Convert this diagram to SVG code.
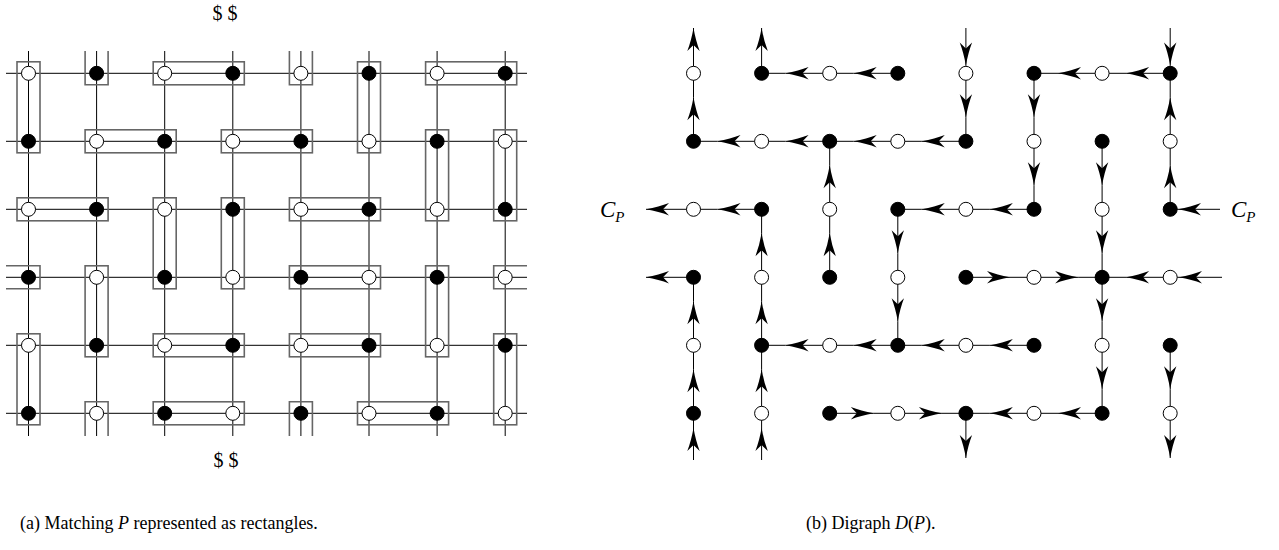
<svg xmlns="http://www.w3.org/2000/svg" width="1279" height="550" viewBox="0 0 1279 550">
<defs>
<marker id="ah" markerUnits="userSpaceOnUse" markerWidth="23" markerHeight="13" viewBox="0 0 23 13" refX="23" refY="6.5" orient="auto" overflow="visible">
<path d="M23,6.5 Q10,4.2 0,0.3 L6,6.5 L0,12.7 Q10,8.8 23,6.5 Z" fill="#000"/>
</marker>
<style>
.grid line{stroke:#000;stroke-width:1}
.w{fill:#fff;stroke:#000;stroke-width:1}
.b{fill:#000;stroke:#000;stroke-width:1}
.mt rect,.mt path{fill:none;stroke:#666;stroke-width:1.6}
.e path{fill:none;stroke:#000;stroke-width:1}
.e .m{marker-mid:url(#ah)}
.e .t{marker-end:url(#ah)}
text{font-family:"Liberation Serif","Times New Roman",serif;fill:#000}
.it{font-style:italic}
</style>
</defs>
<rect width="1279" height="550" fill="#fff"/>

<!-- (a) grid lines -->
<g class="grid" id="grid-a">
<line x1="6" y1="73.3" x2="527" y2="73.3"/>
<line x1="6" y1="141.3" x2="527" y2="141.3"/>
<line x1="6" y1="209.3" x2="527" y2="209.3"/>
<line x1="6" y1="277.3" x2="527" y2="277.3"/>
<line x1="6" y1="345.3" x2="527" y2="345.3"/>
<line x1="6" y1="413.3" x2="527" y2="413.3"/>
<line x1="28.5" y1="51" x2="28.5" y2="436"/>
<line x1="96.6" y1="51" x2="96.6" y2="436"/>
<line x1="164.7" y1="51" x2="164.7" y2="436"/>
<line x1="232.8" y1="51" x2="232.8" y2="436"/>
<line x1="300.9" y1="51" x2="300.9" y2="436"/>
<line x1="369" y1="51" x2="369" y2="436"/>
<line x1="437.1" y1="51" x2="437.1" y2="436"/>
<line x1="505.2" y1="51" x2="505.2" y2="436"/>
</g>

<!-- (a) matching rectangles -->
<g class="mt" id="matching">
<rect x="17" y="61.8" width="23" height="91"/>
<rect x="357.5" y="61.8" width="23" height="91"/>
<rect x="425.6" y="129.8" width="23" height="91"/>
<rect x="493.7" y="129.8" width="23" height="91"/>
<rect x="153.2" y="197.8" width="23" height="91"/>
<rect x="221.3" y="197.8" width="23" height="91"/>
<rect x="85.1" y="265.8" width="23" height="91"/>
<rect x="425.6" y="265.8" width="23" height="91"/>
<rect x="17" y="333.8" width="23" height="91"/>
<rect x="493.7" y="333.8" width="23" height="91"/>
<rect x="153.2" y="61.8" width="91.1" height="23"/>
<rect x="425.6" y="61.8" width="91.1" height="23"/>
<rect x="85.1" y="129.8" width="91.1" height="23"/>
<rect x="221.3" y="129.8" width="91.1" height="23"/>
<rect x="17" y="197.8" width="91.1" height="23"/>
<rect x="289.4" y="197.8" width="91.1" height="23"/>
<rect x="289.4" y="265.8" width="91.1" height="23"/>
<rect x="153.2" y="333.8" width="91.1" height="23"/>
<rect x="289.4" y="333.8" width="91.1" height="23"/>
<rect x="153.2" y="401.8" width="91.1" height="23"/>
<rect x="357.5" y="401.8" width="91.1" height="23"/>
<path d="M85.1,51 V84.8 H108.1 V51"/>
<path d="M289.4,51 V84.8 H312.4 V51"/>
<path d="M85.1,436 V401.8 H108.1 V436"/>
<path d="M289.4,436 V401.8 H312.4 V436"/>
<path d="M6,265.8 H40 V288.8 H6"/>
<path d="M527,265.8 H493.7 V288.8 H527"/>
</g>

<!-- (a) nodes -->
<g id="a00"><circle class="w" cx="28.5" cy="73.3" r="7"/></g>
<g id="a01"><circle class="b" cx="96.6" cy="73.3" r="7"/></g>
<g id="a02"><circle class="w" cx="164.7" cy="73.3" r="7"/></g>
<g id="a03"><circle class="b" cx="232.8" cy="73.3" r="7"/></g>
<g id="a04"><circle class="w" cx="300.9" cy="73.3" r="7"/></g>
<g id="a05"><circle class="b" cx="369" cy="73.3" r="7"/></g>
<g id="a06"><circle class="w" cx="437.1" cy="73.3" r="7"/></g>
<g id="a07"><circle class="b" cx="505.2" cy="73.3" r="7"/></g>
<g id="a10"><circle class="b" cx="28.5" cy="141.3" r="7"/></g>
<g id="a11"><circle class="w" cx="96.6" cy="141.3" r="7"/></g>
<g id="a12"><circle class="b" cx="164.7" cy="141.3" r="7"/></g>
<g id="a13"><circle class="w" cx="232.8" cy="141.3" r="7"/></g>
<g id="a14"><circle class="b" cx="300.9" cy="141.3" r="7"/></g>
<g id="a15"><circle class="w" cx="369" cy="141.3" r="7"/></g>
<g id="a16"><circle class="b" cx="437.1" cy="141.3" r="7"/></g>
<g id="a17"><circle class="w" cx="505.2" cy="141.3" r="7"/></g>
<g id="a20"><circle class="w" cx="28.5" cy="209.3" r="7"/></g>
<g id="a21"><circle class="b" cx="96.6" cy="209.3" r="7"/></g>
<g id="a22"><circle class="w" cx="164.7" cy="209.3" r="7"/></g>
<g id="a23"><circle class="b" cx="232.8" cy="209.3" r="7"/></g>
<g id="a24"><circle class="w" cx="300.9" cy="209.3" r="7"/></g>
<g id="a25"><circle class="b" cx="369" cy="209.3" r="7"/></g>
<g id="a26"><circle class="w" cx="437.1" cy="209.3" r="7"/></g>
<g id="a27"><circle class="b" cx="505.2" cy="209.3" r="7"/></g>
<g id="a30"><circle class="b" cx="28.5" cy="277.3" r="7"/></g>
<g id="a31"><circle class="w" cx="96.6" cy="277.3" r="7"/></g>
<g id="a32"><circle class="b" cx="164.7" cy="277.3" r="7"/></g>
<g id="a33"><circle class="w" cx="232.8" cy="277.3" r="7"/></g>
<g id="a34"><circle class="b" cx="300.9" cy="277.3" r="7"/></g>
<g id="a35"><circle class="w" cx="369" cy="277.3" r="7"/></g>
<g id="a36"><circle class="b" cx="437.1" cy="277.3" r="7"/></g>
<g id="a37"><circle class="w" cx="505.2" cy="277.3" r="7"/></g>
<g id="a40"><circle class="w" cx="28.5" cy="345.3" r="7"/></g>
<g id="a41"><circle class="b" cx="96.6" cy="345.3" r="7"/></g>
<g id="a42"><circle class="w" cx="164.7" cy="345.3" r="7"/></g>
<g id="a43"><circle class="b" cx="232.8" cy="345.3" r="7"/></g>
<g id="a44"><circle class="w" cx="300.9" cy="345.3" r="7"/></g>
<g id="a45"><circle class="b" cx="369" cy="345.3" r="7"/></g>
<g id="a46"><circle class="w" cx="437.1" cy="345.3" r="7"/></g>
<g id="a47"><circle class="b" cx="505.2" cy="345.3" r="7"/></g>
<g id="a50"><circle class="b" cx="28.5" cy="413.3" r="7"/></g>
<g id="a51"><circle class="w" cx="96.6" cy="413.3" r="7"/></g>
<g id="a52"><circle class="b" cx="164.7" cy="413.3" r="7"/></g>
<g id="a53"><circle class="w" cx="232.8" cy="413.3" r="7"/></g>
<g id="a54"><circle class="b" cx="300.9" cy="413.3" r="7"/></g>
<g id="a55"><circle class="w" cx="369" cy="413.3" r="7"/></g>
<g id="a56"><circle class="b" cx="437.1" cy="413.3" r="7"/></g>
<g id="a57"><circle class="w" cx="505.2" cy="413.3" r="7"/></g>

<!-- (b) connectors -->
<g class="e" id="edges">
<path class="m" d="M897.8,73.3 L853.7,73.3 L829.7,73.3"/>
<path class="m" d="M829.7,73.3 L785.6,73.3 L761.6,73.3"/>
<path class="m" d="M1170.2,73.3 L1126.1,73.3 L1102.1,73.3"/>
<path class="m" d="M1102.1,73.3 L1058,73.3 L1034,73.3"/>
<path class="m" d="M965.9,141.3 L921.8,141.3 L897.8,141.3"/>
<path class="m" d="M897.8,141.3 L853.7,141.3 L829.7,141.3"/>
<path class="m" d="M829.7,141.3 L785.6,141.3 L761.6,141.3"/>
<path class="m" d="M761.6,141.3 L717.5,141.3 L693.5,141.3"/>
<path class="m" d="M761.6,209.3 L717.5,209.3 L693.5,209.3"/>
<path class="m" d="M1034,209.3 L989.9,209.3 L965.9,209.3"/>
<path class="m" d="M965.9,209.3 L921.8,209.3 L897.8,209.3"/>
<path class="m" d="M965.9,277.3 L1010,277.3 L1034,277.3"/>
<path class="m" d="M1034,277.3 L1078.1,277.3 L1102.1,277.3"/>
<path class="m" d="M1170.2,277.3 L1126.1,277.3 L1102.1,277.3"/>
<path class="m" d="M897.8,345.3 L853.7,345.3 L829.7,345.3"/>
<path class="m" d="M829.7,345.3 L785.6,345.3 L761.6,345.3"/>
<path class="m" d="M1034,345.3 L989.9,345.3 L965.9,345.3"/>
<path class="m" d="M965.9,345.3 L921.8,345.3 L897.8,345.3"/>
<path class="m" d="M829.7,413.3 L873.8,413.3 L897.8,413.3"/>
<path class="m" d="M897.8,413.3 L941.9,413.3 L965.9,413.3"/>
<path class="m" d="M1034,413.3 L989.9,413.3 L965.9,413.3"/>
<path class="m" d="M1102.1,413.3 L1058,413.3 L1034,413.3"/>
<path class="m" d="M693.5,141.3 L693.5,97.3 L693.5,73.3"/>
<path class="m" d="M829.7,209.3 L829.7,165.3 L829.7,141.3"/>
<path class="m" d="M829.7,277.3 L829.7,233.3 L829.7,209.3"/>
<path class="m" d="M761.6,277.3 L761.6,233.3 L761.6,209.3"/>
<path class="m" d="M761.6,345.3 L761.6,301.3 L761.6,277.3"/>
<path class="m" d="M761.6,413.3 L761.6,369.3 L761.6,345.3"/>
<path class="m" d="M693.5,345.3 L693.5,301.3 L693.5,277.3"/>
<path class="m" d="M693.5,413.3 L693.5,369.3 L693.5,345.3"/>
<path class="m" d="M897.8,209.3 L897.8,253.3 L897.8,277.3"/>
<path class="m" d="M897.8,277.3 L897.8,321.3 L897.8,345.3"/>
<path class="m" d="M965.9,73.3 L965.9,117.3 L965.9,141.3"/>
<path class="m" d="M1034,73.3 L1034,117.3 L1034,141.3"/>
<path class="m" d="M1034,141.3 L1034,185.3 L1034,209.3"/>
<path class="m" d="M1102.1,141.3 L1102.1,185.3 L1102.1,209.3"/>
<path class="m" d="M1102.1,209.3 L1102.1,253.3 L1102.1,277.3"/>
<path class="m" d="M1102.1,277.3 L1102.1,321.3 L1102.1,345.3"/>
<path class="m" d="M1102.1,345.3 L1102.1,389.3 L1102.1,413.3"/>
<path class="m" d="M1170.2,141.3 L1170.2,97.3 L1170.2,73.3"/>
<path class="m" d="M1170.2,209.3 L1170.2,165.3 L1170.2,141.3"/>
<path class="m" d="M1170.2,345.3 L1170.2,389.3 L1170.2,413.3"/>
<path class="t" d="M693.5,73.3 L693.5,28"/>
<path class="t" d="M761.6,73.3 L761.6,28"/>
<path class="m" d="M965.9,28 L965.9,65.5 L965.9,73.3"/>
<path class="m" d="M1170.2,28 L1170.2,65.5 L1170.2,73.3"/>
<path class="m" d="M693.5,460 L693.5,428 L693.5,413.3"/>
<path class="m" d="M761.6,460 L761.6,428 L761.6,413.3"/>
<path class="t" d="M965.9,413.3 L965.9,458"/>
<path class="t" d="M1170.2,413.3 L1170.2,458"/>
<path class="t" d="M693.5,209.3 L646,209.3"/>
<path class="t" d="M693.5,277.3 L646,277.3"/>
<path class="m" d="M1220,209.3 L1178,209.3 L1170.2,209.3"/>
<path class="m" d="M1222,277.3 L1179,277.3 L1170.2,277.3"/>
</g>

<!-- (b) nodes -->
<g id="b00"><circle class="w" cx="693.5" cy="73.3" r="7"/></g>
<g id="b01"><circle class="b" cx="761.6" cy="73.3" r="7"/></g>
<g id="b02"><circle class="w" cx="829.7" cy="73.3" r="7"/></g>
<g id="b03"><circle class="b" cx="897.8" cy="73.3" r="7"/></g>
<g id="b04"><circle class="w" cx="965.9" cy="73.3" r="7"/></g>
<g id="b05"><circle class="b" cx="1034" cy="73.3" r="7"/></g>
<g id="b06"><circle class="w" cx="1102.1" cy="73.3" r="7"/></g>
<g id="b07"><circle class="b" cx="1170.2" cy="73.3" r="7"/></g>
<g id="b10"><circle class="b" cx="693.5" cy="141.3" r="7"/></g>
<g id="b11"><circle class="w" cx="761.6" cy="141.3" r="7"/></g>
<g id="b12"><circle class="b" cx="829.7" cy="141.3" r="7"/></g>
<g id="b13"><circle class="w" cx="897.8" cy="141.3" r="7"/></g>
<g id="b14"><circle class="b" cx="965.9" cy="141.3" r="7"/></g>
<g id="b15"><circle class="w" cx="1034" cy="141.3" r="7"/></g>
<g id="b16"><circle class="b" cx="1102.1" cy="141.3" r="7"/></g>
<g id="b17"><circle class="w" cx="1170.2" cy="141.3" r="7"/></g>
<g id="b20"><circle class="w" cx="693.5" cy="209.3" r="7"/></g>
<g id="b21"><circle class="b" cx="761.6" cy="209.3" r="7"/></g>
<g id="b22"><circle class="w" cx="829.7" cy="209.3" r="7"/></g>
<g id="b23"><circle class="b" cx="897.8" cy="209.3" r="7"/></g>
<g id="b24"><circle class="w" cx="965.9" cy="209.3" r="7"/></g>
<g id="b25"><circle class="b" cx="1034" cy="209.3" r="7"/></g>
<g id="b26"><circle class="w" cx="1102.1" cy="209.3" r="7"/></g>
<g id="b27"><circle class="b" cx="1170.2" cy="209.3" r="7"/></g>
<g id="b30"><circle class="b" cx="693.5" cy="277.3" r="7"/></g>
<g id="b31"><circle class="w" cx="761.6" cy="277.3" r="7"/></g>
<g id="b32"><circle class="b" cx="829.7" cy="277.3" r="7"/></g>
<g id="b33"><circle class="w" cx="897.8" cy="277.3" r="7"/></g>
<g id="b34"><circle class="b" cx="965.9" cy="277.3" r="7"/></g>
<g id="b35"><circle class="w" cx="1034" cy="277.3" r="7"/></g>
<g id="b36"><circle class="b" cx="1102.1" cy="277.3" r="7"/></g>
<g id="b37"><circle class="w" cx="1170.2" cy="277.3" r="7"/></g>
<g id="b40"><circle class="w" cx="693.5" cy="345.3" r="7"/></g>
<g id="b41"><circle class="b" cx="761.6" cy="345.3" r="7"/></g>
<g id="b42"><circle class="w" cx="829.7" cy="345.3" r="7"/></g>
<g id="b43"><circle class="b" cx="897.8" cy="345.3" r="7"/></g>
<g id="b44"><circle class="w" cx="965.9" cy="345.3" r="7"/></g>
<g id="b45"><circle class="b" cx="1034" cy="345.3" r="7"/></g>
<g id="b46"><circle class="w" cx="1102.1" cy="345.3" r="7"/></g>
<g id="b47"><circle class="b" cx="1170.2" cy="345.3" r="7"/></g>
<g id="b50"><circle class="b" cx="693.5" cy="413.3" r="7"/></g>
<g id="b51"><circle class="w" cx="761.6" cy="413.3" r="7"/></g>
<g id="b52"><circle class="b" cx="829.7" cy="413.3" r="7"/></g>
<g id="b53"><circle class="w" cx="897.8" cy="413.3" r="7"/></g>
<g id="b54"><circle class="b" cx="965.9" cy="413.3" r="7"/></g>
<g id="b55"><circle class="w" cx="1034" cy="413.3" r="7"/></g>
<g id="b56"><circle class="b" cx="1102.1" cy="413.3" r="7"/></g>
<g id="b57"><circle class="w" cx="1170.2" cy="413.3" r="7"/></g>

<!-- labels -->
<g id="cp-left"><text x="600" y="217" font-size="23" class="it">C<tspan font-size="15" dy="5">P</tspan></text></g>
<g id="cp-right"><text x="1231" y="217" font-size="23" class="it">C<tspan font-size="15" dy="5">P</tspan></text></g>
<text x="225" y="20" font-size="20" text-anchor="middle">$ $</text>
<text x="226" y="467" font-size="20" text-anchor="middle">$ $</text>
<text x="20" y="529" font-size="18">(a) Matching <tspan class="it">P</tspan> represented as rectangles.</text>
<text x="806" y="529" font-size="18">(b) Digraph <tspan class="it">D</tspan>(<tspan class="it">P</tspan>).</text>
</svg>
